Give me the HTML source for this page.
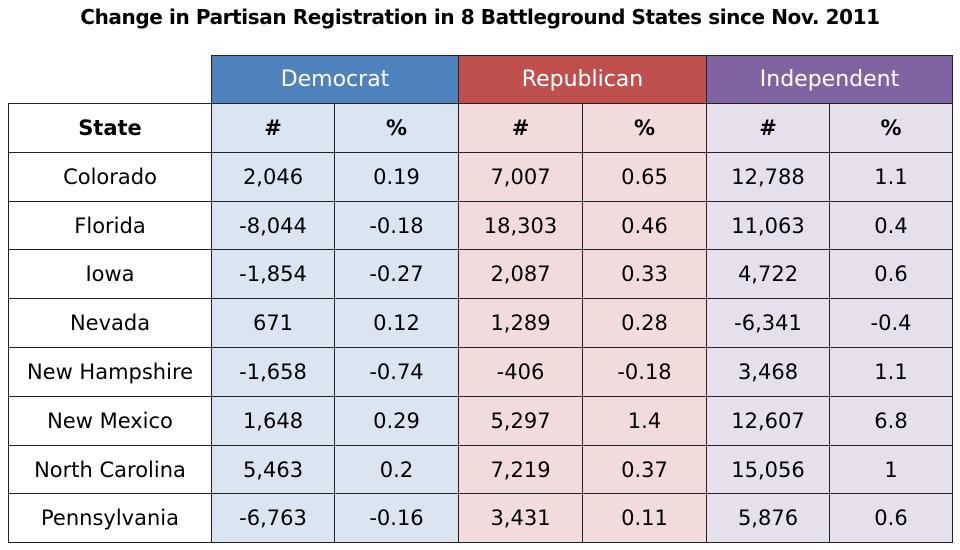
<!DOCTYPE html>
<html><head><meta charset="utf-8"><style>
body{margin:0;width:960px;height:550px;background:#fff;position:relative;font-family:"DejaVu Sans","Liberation Sans",sans-serif;overflow:hidden}
.t{position:absolute;left:0;width:960px;top:5px;text-align:center;font-weight:bold;font-size:20px;color:#000;letter-spacing:-0.4px}
.c{position:absolute;box-sizing:border-box;border:1px solid #222;display:flex;align-items:center;justify-content:center;font-size:21px;color:#000}
.h{color:#fff;font-size:22px}
</style></head><body>
<div class="t">Change in Partisan Registration in 8 Battleground States since Nov. 2011</div>
<div id="g"></div>
<script>
var X=[8,211,334,458,582,706,829,952];
var Y=[103,152,201,249,298,347,396,445,493,542];
var light=['#fff','#dbe5f1','#dbe5f1','#f2dcdb','#f2dcdb','#e5e0ec','#e5e0ec'];
var rows=[["State","#","%","#","%","#","%"],
["Colorado","2,046","0.19","7,007","0.65","12,788","1.1"],
["Florida","-8,044","-0.18","18,303","0.46","11,063","0.4"],
["Iowa","-1,854","-0.27","2,087","0.33","4,722","0.6"],
["Nevada","671","0.12","1,289","0.28","-6,341","-0.4"],
["New Hampshire","-1,658","-0.74","-406","-0.18","3,468","1.1"],
["New Mexico","1,648","0.29","5,297","1.4","12,607","6.8"],
["North Carolina","5,463","0.2","7,219","0.37","15,056","1"],
["Pennsylvania","-6,763","-0.16","3,431","0.11","5,876","0.6"]];
var h='';
var hd=[["Democrat","#4f81bd"],["Republican","#c0504d"],["Independent","#8064a2"]];
for(var i=0;i<3;i++){h+='<div class="c h" style="left:'+X[1+2*i]+'px;top:55px;width:'+(X[3+2*i]-X[1+2*i]+1)+'px;height:49px;background:'+hd[i][1]+'">'+hd[i][0]+'</div>';}
for(var r=0;r<9;r++)for(var c=0;c<7;c++){
h+='<div class="c" style="left:'+X[c]+'px;top:'+Y[r]+'px;width:'+(X[c+1]-X[c]+1)+'px;height:'+(Y[r+1]-Y[r]+1)+'px;background:'+light[c]+(r==0?';font-weight:bold':'')+'">'+rows[r][c]+'</div>';}
document.getElementById('g').innerHTML=h;
</script>
</body></html>
